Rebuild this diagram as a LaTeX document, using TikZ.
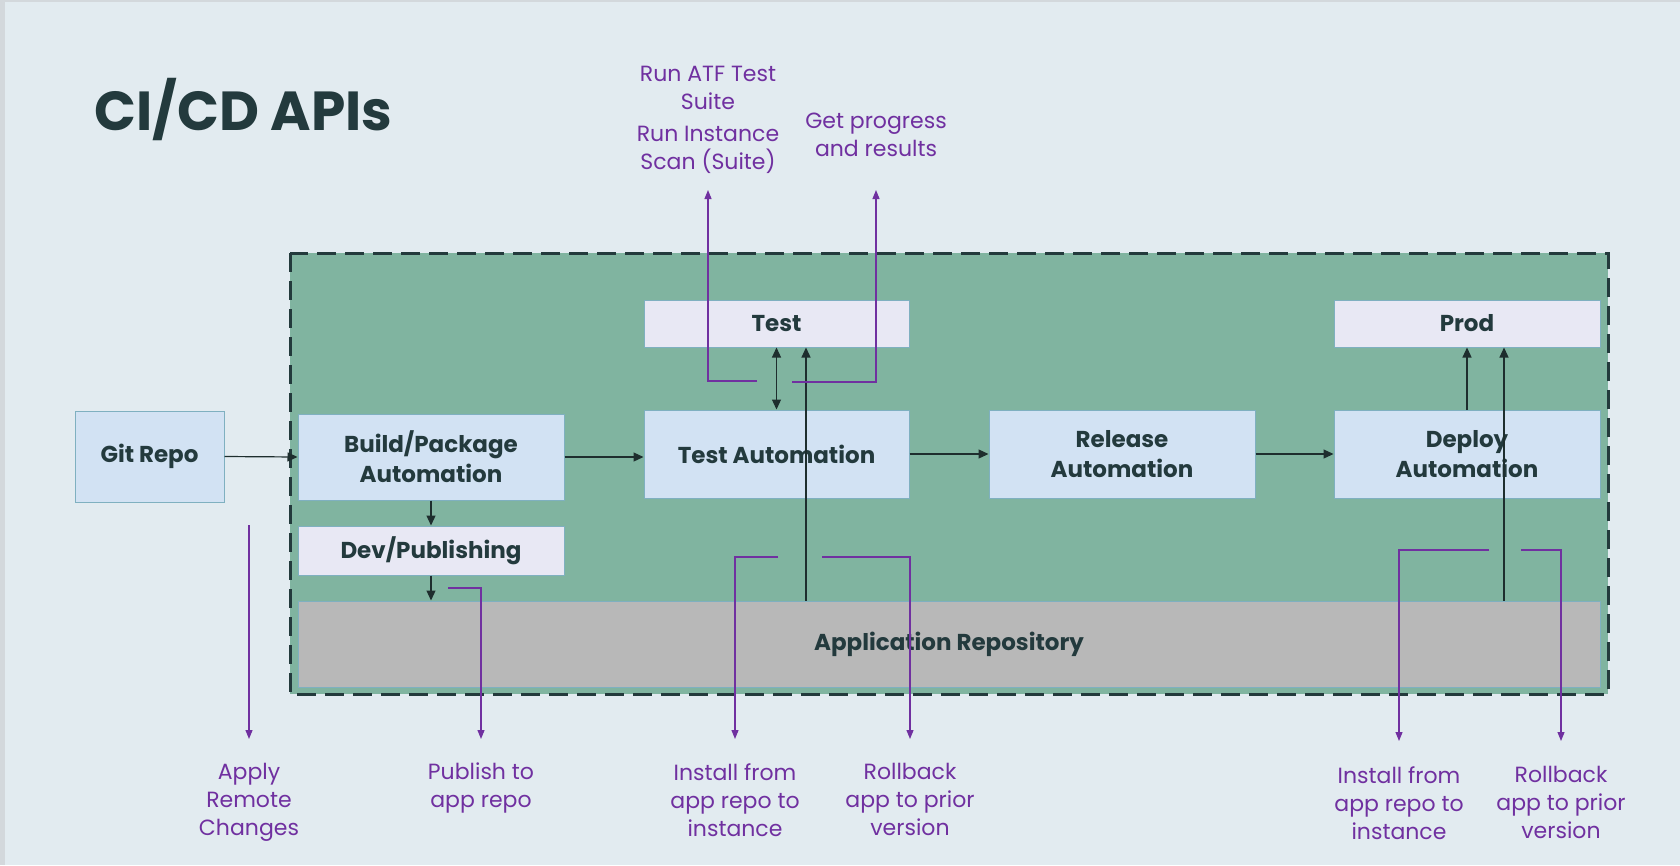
\documentclass[tikz,border=0pt]{standalone}
\usepackage{fontspec}
\setmainfont{Poppins}
\usetikzlibrary{arrows.meta}
\definecolor{frame}{HTML}{D3D8DC}
\definecolor{bg}{HTML}{E2EBF0}
\definecolor{cont}{HTML}{80B4A0}
\definecolor{dash}{HTML}{233A3C}
\definecolor{bluefill}{HTML}{D2E2F3}
\definecolor{lavfill}{HTML}{E8E8F4}
\definecolor{repofill}{HTML}{B8B8B8}
\definecolor{boxline}{HTML}{7FB0C0}
\definecolor{ink}{HTML}{233A3D}
\definecolor{arrink}{HTML}{1E2E2E}
\definecolor{purp}{HTML}{7030A0}
\newcommand\bxfont{\fontsize{23}{30}\selectfont\bfseries}
\newcommand\lbfont{\fontsize{22}{28}\selectfont}
\newcommand\ttlfont{\fontsize{55}{60}\selectfont\bfseries}
\begin{document}
\begin{tikzpicture}[x=1pt,y=-1pt,
  box/.style={draw=boxline, line width=1pt, inner sep=0pt, align=center, font=\bxfont, text=ink},
  bluebox/.style={box, fill=bluefill},
  lavbox/.style={box, fill=lavfill},
  repobox/.style={box, fill=repofill},
  arr/.style={draw=arrink, line width=1.2pt, -{Triangle[length=10pt,width=9pt]}},
  darr/.style={draw=arrink, line width=1.2pt, {Triangle[length=10pt,width=9pt]}-{Triangle[length=10pt,width=9pt]}},
  parr/.style={draw=purp, line width=1.2pt, -{Triangle[length=9pt,width=7pt]}},
  plabel/.style={text=purp, font=\lbfont, align=center, inner sep=0pt, anchor=north}
]
\useasboundingbox (0,0) rectangle (1680,865);
\fill[frame] (0,0) rectangle (1680,865);
\fill[bg] (5,2) rectangle (1680,865);

% title
\node[anchor=base west, inner sep=0pt, text=ink, font=\ttlfont] (title) at (94,130) {CI/CD APIs};

% container
\draw[fill=cont, draw=dash, line width=3pt, dash pattern=on 19pt off 9pt] (290,253) rectangle (1608,694);

% nodes
\node[bluebox, minimum width=149, minimum height=91] (git) at (149.5,456.5) {Git Repo};
\node[bluebox, minimum width=266, minimum height=86] (build) at (431,457) {Build/Package\\Automation};
\node[lavbox, minimum width=266, minimum height=49] (dev) at (431,550.5) {Dev/Publishing};
\node[lavbox, minimum width=265, minimum height=47] (test) at (776.5,323.5) {Test};
\node[bluebox, minimum width=265, minimum height=88] (testauto) at (776.5,454) {Test Automation};
\node[bluebox, minimum width=266, minimum height=88] (release) at (1122,454) {Release\\Automation};
\node[lavbox, minimum width=266, minimum height=47] (prod) at (1467,323.5) {Prod};
\node[bluebox, minimum width=266, minimum height=88] (deploy) at (1467,454) {Deploy\\Automation};
\node[repobox, minimum width=1302, minimum height=86] (apprepo) at (949,644) {Application Repository};

% black connectors
\draw[arr] (git.east) -- (build.west);
\draw[arr] (build.east) -- (build.east -| testauto.west);
\draw[arr] (testauto.east) -- (release.west);
\draw[arr] (release.east) -- (deploy.west);
\draw[arr] (build.south) -- (dev.north);
\draw[arr] (dev.south) -- (dev.south |- apprepo.north);
\draw[darr] (test.south) -- (testauto.north);
\coordinate (xT) at (806,0);
\draw[arr] (apprepo.north -| xT) -- (test.south -| xT);
\draw[arr] (deploy.north) -- (prod.south);
\coordinate (xP) at (1504,0);
\draw[arr] (apprepo.north -| xP) -- (prod.south -| xP);

% purple labels
\node[plabel] (atfL) at (708,66) {Run ATF Test\\Suite\\[4pt]Run Instance\\Scan (Suite)};
\node[plabel] (progL) at (876,113) {Get progress\\and results};
\node[plabel] (applyL) at (249,763) {Apply\\Remote\\Changes};
\node[plabel] (pubL) at (481,763) {Publish to\\app repo};
\node[plabel] (inst1L) at (735,763) {Install from\\app repo to\\instance};
\node[plabel] (roll1L) at (910,763) {Rollback\\app to prior\\version};
\node[plabel] (inst2L) at (1399,766) {Install from\\app repo to\\instance};
\node[plabel] (roll2L) at (1561,766) {Rollback\\app to prior\\version};

% purple connectors
\coordinate (atfS) at (757,381);  \coordinate (atfT) at (708,190);
\coordinate (progS) at (792,382); \coordinate (progT) at (876,190);
\coordinate (applyS) at (249,525); \coordinate (applyT) at (249,739);
\coordinate (pubS) at (448,588);  \coordinate (pubT) at (481,739);
\coordinate (i1S) at (778,557);   \coordinate (i1T) at (735,739);
\coordinate (r1S) at (822,557);   \coordinate (r1T) at (910,739);
\coordinate (i2S) at (1489,550);  \coordinate (i2T) at (1399,741);
\coordinate (r2S) at (1521,550);  \coordinate (r2T) at (1561,741);
\draw[parr] (atfS) -| (atfT);
\draw[parr] (progS) -| (progT);
\draw[parr] (applyS) -- (applyT);
\draw[parr] (pubS) -| (pubT);
\draw[parr] (i1S) -| (i1T);
\draw[parr] (r1S) -| (r1T);
\draw[parr] (i2S) -| (i2T);
\draw[parr] (r2S) -| (r2T);
\end{tikzpicture}
\end{document}
